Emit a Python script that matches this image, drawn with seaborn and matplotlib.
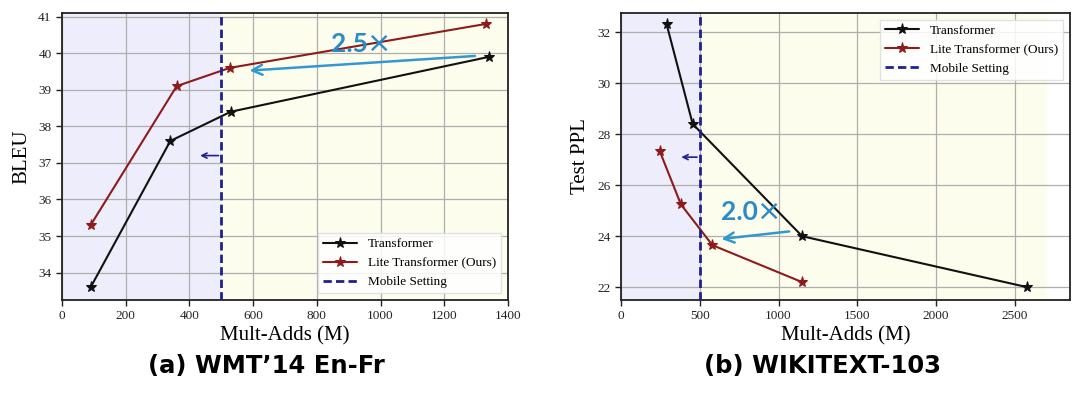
import seaborn as sns
import matplotlib.pyplot as plt

# (a) WMT'14 En-Fr
wmt_tf_x = [90, 340, 530, 1340]
wmt_tf_y = [33.6, 37.6, 38.4, 39.9]
wmt_lite_x = [90, 360, 527, 1330]
wmt_lite_y = [35.3, 39.1, 39.6, 40.8]

# (b) WIKITEXT-103
wiki_tf_x = [290, 455, 1150, 2580]
wiki_tf_y = [32.3, 28.4, 24.0, 22.0]
wiki_lite_x = [245, 380, 580, 1150]
wiki_lite_y = [27.35, 25.25, 23.65, 22.2]

mobile = 500
titles = ["(a) WMT\u201914 En-Fr", "(b) WIKITEXT-103"]
ylabels = ["BLEU", "Test PPL"]
speedups = ["2.5", "2.0"]

sns.set_theme(style="ticks")
plt.rcParams['font.family'] = ['Liberation Serif', 'DejaVu Serif']
plt.rcParams['text.color'] = 'black'
plt.rcParams['axes.labelcolor'] = 'black'
plt.rcParams['xtick.color'] = '#222222'
plt.rcParams['ytick.color'] = '#222222'

black = "#111111"
red = "#8e1b1b"
navy = "#20208f"
blue = "#3597cf"
txtblue = "#2a8cc6"

fig = plt.figure(figsize=(10.8, 3.93), dpi=100)
ax1 = fig.add_axes([62 / 1080, 93 / 393, 446 / 1080, 287 / 393])
ax2 = fig.add_axes([621 / 1080, 93 / 393, 449 / 1080, 287 / 393])


def panel(ax, tf_x, tf_y, lite_x, lite_y, xlim, ylim, span_end, ylabel, legend_loc):
    ax.axvspan(xlim[0], mobile, color="#ededfb", zorder=0)
    ax.axvspan(mobile, span_end, color="#fdfdee", zorder=0)
    ax.grid(True, color="#aeaeae", lw=0.9, zorder=1)
    sns.lineplot(x=tf_x, y=tf_y, ax=ax, color=black, marker="*", markersize=8,
                 markeredgecolor=black, lw=1.5, sort=False, label="Transformer", zorder=3)
    sns.lineplot(x=lite_x, y=lite_y, ax=ax, color=red, marker="*", markersize=8,
                 markeredgecolor=red, lw=1.5, sort=False, label="Lite Transformer (Ours)", zorder=3)
    ax.axvline(mobile, color=navy, ls=(0, (3, 1.5)), lw=2, label="Mobile Setting", zorder=4)
    ax.set_xlim(*xlim)
    ax.set_ylim(*ylim)
    ax.set_xlabel("Mult-Adds (M)", fontsize=15, labelpad=3)
    ax.set_ylabel(ylabel, fontsize=15, labelpad=5)
    ax.tick_params(labelsize=9.5, length=4, width=1)
    ax.set_axisbelow(True)
    for s in ax.spines.values():
        s.set_color("#222222")
        s.set_linewidth(1.3)
    ax.legend(loc=legend_loc, fontsize=9.5, frameon=True, fancybox=False,
              framealpha=0.85, edgecolor="#dddddd", handlelength=2.6)


def speedup(ax, x, y, label):
    ax.text(x, y, label, color=txtblue, fontsize=19, fontweight="bold",
            family=["Lato", "DejaVu Sans"], va="center", ha="left", zorder=5)
    ax.annotate("\u00d7", xy=(x, y), xytext=(26, 0), textcoords="offset points",
                color=txtblue, fontsize=21, family=["DejaVu Sans"],
                va="center", ha="left", zorder=5)


panel(ax1, wmt_tf_x, wmt_tf_y, wmt_lite_x, wmt_lite_y, (0, 1400), (33.25, 41.1),
      1400, ylabels[0], "lower right")
ax1.set_xticks(range(0, 1401, 200))
ax1.set_yticks(range(34, 42))

panel(ax2, wiki_tf_x, wiki_tf_y, wiki_lite_x, wiki_lite_y, (0, 2850), (21.5, 32.75),
      2700, ylabels[1], "upper right")
ax2.set_xticks(range(0, 2501, 500))
ax2.set_yticks(range(22, 33, 2))

# speed-up arrows
ax1.annotate("", xy=(580, 39.52), xytext=(1305, 39.93),
             arrowprops=dict(arrowstyle="->", color=blue, lw=1.8, mutation_scale=18), zorder=5)
speedup(ax1, 845, 40.25, speedups[0])
ax2.annotate("", xy=(620, 23.88), xytext=(1085, 24.2),
             arrowprops=dict(arrowstyle="->", color=blue, lw=1.8, mutation_scale=18), zorder=5)
speedup(ax2, 635, 24.95, speedups[1])

# small "mobile" arrows
ax1.annotate("", xy=(425, 37.2), xytext=(500, 37.2),
             arrowprops=dict(arrowstyle="->", color=navy, lw=1.2, mutation_scale=9))
ax2.annotate("", xy=(365, 27.1), xytext=(500, 27.1),
             arrowprops=dict(arrowstyle="->", color=navy, lw=1.2, mutation_scale=9))

fig.text(266 / 1080, 1 - 366 / 393, titles[0], ha="center", va="center", fontsize=17.5,
         fontweight="bold", family=["DejaVu Sans"])
fig.text(822 / 1080, 1 - 366 / 393, titles[1], ha="center", va="center", fontsize=17.5,
         fontweight="bold", family=["DejaVu Sans"])

fig.savefig("out.png", dpi=100)
